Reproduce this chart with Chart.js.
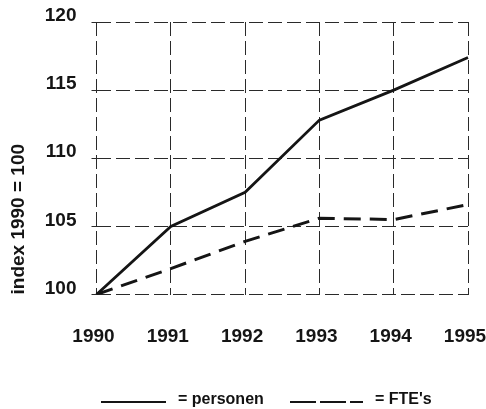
<!DOCTYPE html>
<html>
<head>
<meta charset="utf-8">
<script src="https://cdn.jsdelivr.net/npm/chart.js@4/dist/chart.umd.min.js"></script>
<style>
  html, body { margin: 0; padding: 0; background: #fff; }
  #wrap { position: relative; width: 486px; height: 409px; }
  #legend { position: absolute; left: 0; top: 390px; width: 486px; height: 20px;
            font: bold 16px "Liberation Sans", Arial, sans-serif; color: #111; }
  .leg-item { position: absolute; top: 0; display: flex; align-items: center; white-space: nowrap; }
  .leg-item svg { display: block; margin-right: 12px; margin-top: 6px; }
</style>
</head>
<body>
<div id="wrap">
  <canvas id="chart" width="486" height="409"></canvas>
  <div id="legend"></div>
</div>
<script>
// ── Data ──
const years    = ["1990", "1991", "1992", "1993", "1994", "1995"];
const personen = [100, 105.0, 107.5, 112.8, 115.0, 117.4];
const ftes     = [100, 101.9, 103.9, 105.6, 105.5, 106.6];
const yTitle   = "index 1990 = 100";
const legendLabels = ["= personen", "= FTE's"];

const INK = "#151515";
const FONT = "'Liberation Sans', Arial, sans-serif";

// keep the plot box where the reference has it (no auto padding for edge labels)
function noEdgePadding(s) {
  s.paddingLeft = 0; s.paddingRight = 0; s.paddingTop = 0; s.paddingBottom = 0;
}

const chart = new Chart(document.getElementById("chart"), {
  type: "line",
  data: {
    labels: years,
    datasets: [
      {
        label: legendLabels[0],
        data: personen,
        borderColor: INK,
        borderWidth: 2.8,
        pointRadius: 0,
        tension: 0,
      },
      {
        label: legendLabels[1],
        data: ftes,
        borderColor: INK,
        borderWidth: 3,
        borderDash: [17, 9],
        pointRadius: 0,
        tension: 0,
      }
    ]
  },
  options: {
    responsive: false,
    animation: false,
    layout: { padding: { left: 0, right: 18, top: 22, bottom: 0 } },
    plugins: {
      legend: { display: false },
      tooltip: { enabled: false }
    },
    scales: {
      x: {
        offset: false,
        grid: { color: "#2a2a2a", lineWidth: 1, drawTicks: false },
        border: { display: false, dash: [14, 5] },
        ticks: {
          color: INK,
          font: { family: FONT, size: 19, weight: "bold" },
          padding: 31,
          labelOffset: -3,
          maxRotation: 0,
          autoSkip: false,
        },
        afterFit: s => { s.height = 409 - 294.5; noEdgePadding(s); }
      },
      y: {
        min: 100,
        max: 120,
        grid: { color: "#2a2a2a", lineWidth: 1, tickLength: 5 },
        border: { display: false, dash: [14, 5] },
        ticks: {
          stepSize: 5,
          color: INK,
          font: { family: FONT, size: 19, weight: "bold" },
          padding: 15,
          labelOffset: -6,
        },
        title: {
          display: true,
          text: yTitle,
          align: "start",
          color: INK,
          font: { family: FONT, size: 19, weight: "bold" },
          padding: { top: 7, bottom: 0 }
        },
        afterFit: s => { s.width = 96.5; noEdgePadding(s); }
      }
    }
  }
});

// ── Legend (HTML, line samples follow the dataset styles) ──
const legendPos = [101, 290];
document.getElementById("legend").innerHTML = chart.data.datasets.map((ds, i) => {
  const dash = ds.borderDash ? `stroke-dasharray="26 4"` : "";
  return `
    <div class="leg-item" style="left:${legendPos[i]}px">
      <svg width="${i ? 73 : 65}" height="4">
        <line x1="0" y1="2" x2="${i ? 73 : 65}" y2="2" stroke="${INK}" stroke-width="2.2" ${dash}/>
      </svg>
      <span>${ds.label}</span>
    </div>`;
}).join("");
</script>
</body>
</html>
